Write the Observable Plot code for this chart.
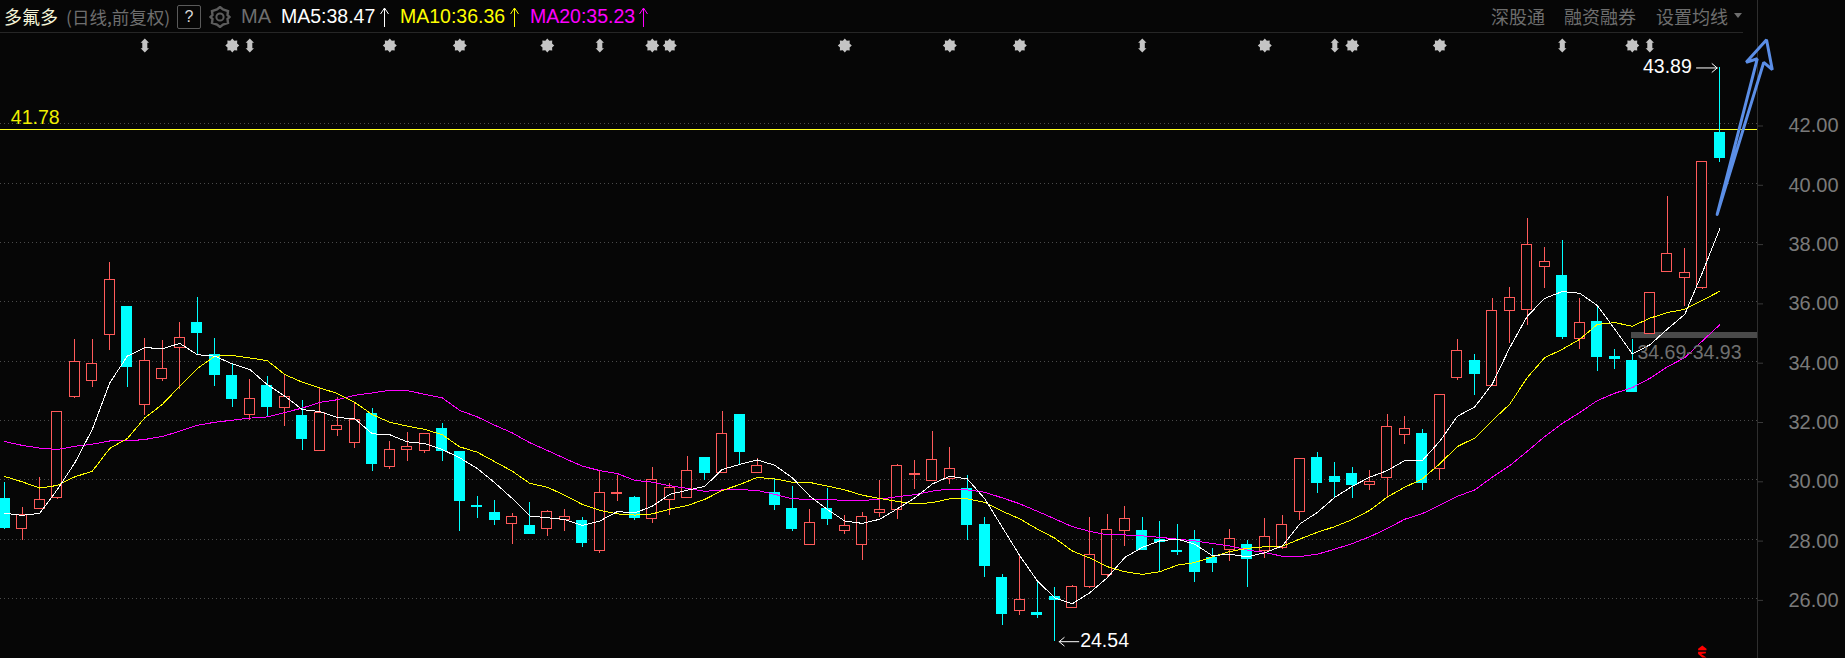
<!DOCTYPE html>
<html>
<head>
<meta charset="utf-8">
<script src="https://cdn.jsdelivr.net/npm/d3@7"></script>
<script src="https://cdn.jsdelivr.net/npm/@observablehq/plot@0.6"></script>
<style>
html,body{margin:0;padding:0;background:#060606;width:1845px;height:658px;overflow:hidden}
#head{position:relative;width:1845px;height:33px;font-family:"Liberation Sans","Noto Sans CJK SC",sans-serif;font-size:19.5px;line-height:33px;white-space:nowrap}
#head span{position:absolute;top:0}
#head .rule{position:absolute;left:0;top:32px;width:1743px;height:1px;background:#262626}
#head .axis{position:absolute;left:1757px;top:0;width:1px;height:33px;background:#2e2e2e}
#head .cjk{font-family:"Noto Sans CJK SC",sans-serif;font-size:18px}
#head svg{position:absolute}
svg{display:block}
</style>
</head>
<body>
<div id="head">
<span class="cjk" style="left:4px;color:#f4f4d8">多氟多</span>
<span class="cjk" style="left:66px;color:#6e6e6e;font-size:17.5px">(日线,前复权)</span>
<span style="left:177px;top:5px;width:22px;height:22px;line-height:22px;border:1px solid #5a5a5a;border-radius:2px;text-align:center;color:#d8d8d8;font-size:16px">?</span>
<svg style="left:209px;top:6px" width="22" height="22" viewBox="-11 -11 22 22"><polygon points="0,-10 3,-7.5 8,-6 7.5,-2 9.5,0 7.5,2 8,6 3,7.5 0,10 -3,7.5 -8,6 -7.5,2 -9.5,0 -7.5,-2 -8,-6 -3,-7.5" fill="none" stroke="#5c5c5c" stroke-width="2.4"/><circle r="3.6" fill="none" stroke="#5c5c5c" stroke-width="2"/></svg>
<span style="left:241px;color:#6e6e6e;font-size:20px">MA</span>
<span style="left:281px;color:#ffffff">MA5:38.47</span>
<svg style="left:380px;top:7px" width="9" height="20"><path d="M4.5 20V1M0.5 7L4.5 1L8.5 7" fill="none" stroke="#ffffff"/></svg>
<span style="left:400px;color:#ffff00">MA10:36.36</span>
<svg style="left:510px;top:7px" width="9" height="20"><path d="M4.5 20V1M0.5 7L4.5 1L8.5 7" fill="none" stroke="#ffff00"/></svg>
<span style="left:530px;color:#ff00ff">MA20:35.23</span>
<svg style="left:639px;top:7px" width="9" height="20"><path d="M4.5 20V1M0.5 7L4.5 1L8.5 7" fill="none" stroke="#ff00ff"/></svg>
<span class="cjk" style="left:1491px;color:#6e6e6e">深股通</span>
<span class="cjk" style="left:1564px;color:#6e6e6e">融资融券</span>
<span class="cjk" style="left:1656px;color:#6e6e6e">设置均线</span>
<svg style="left:1734px;top:13px" width="8" height="5"><polygon points="0,0 8,0 4,5" fill="#6e6e6e"/></svg>
<div class="rule"></div><div class="axis"></div>
</div>
<div id="chart"></div>
<script>
const open = [29.35,28.33,29.02,29.37,32.80,33.34,34.90,35.82,32.53,33.40,34.45,35.28,34.22,33.49,32.19,33.16,32.43,32.15,30.98,31.69,31.25,32.21,30.44,30.99,30.98,31.71,30.93,29.12,28.88,28.52,28.44,28.35,28.65,28.61,27.61,29.53,29.38,28.69,29.33,29.39,30.73,30.24,32.18,30.24,29.55,29.01,27.81,29.01,28.28,27.81,28.89,28.97,30.17,29.95,30.02,29.69,28.49,26.69,25.58,25.50,26.05,25.68,26.40,26.80,28.26,28.28,27.97,27.61,27.98,27.37,27.62,27.81,27.59,27.71,28.90,30.72,30.11,30.18,29.82,30.06,31.50,31.56,30.36,33.45,34.01,33.15,35.70,35.74,37.18,36.87,34.76,35.32,34.13,34.01,34.93,37.01,36.81,36.48,41.70];
const close = [28.38,28.80,29.33,32.30,33.96,33.92,36.75,33.80,33.99,33.72,34.79,34.95,33.53,32.72,32.74,32.45,32.78,31.37,32.24,31.80,32.00,30.53,30.99,31.12,31.53,30.97,29.28,29.08,28.64,28.76,28.17,28.90,28.76,27.87,29.54,29.57,28.71,29.98,29.71,30.28,30.22,31.56,30.93,30.45,29.15,28.34,28.53,28.67,28.43,28.73,28.97,30.47,30.21,30.68,30.37,28.49,27.10,25.47,25.93,25.44,25.94,26.37,27.46,28.31,28.68,27.64,27.89,27.58,26.89,27.20,28.00,27.33,28.07,28.47,30.71,29.88,29.94,29.84,29.93,31.78,31.71,29.88,32.86,34.34,33.57,35.68,36.12,37.93,37.33,34.82,35.28,34.15,34.09,32.97,36.29,37.60,36.99,40.72,40.85];
const high = [29.91,29.08,30.09,32.30,34.74,34.74,37.34,35.82,34.77,34.71,35.31,36.16,34.77,33.89,33.39,33.49,33.52,32.69,33.10,32.79,32.61,32.41,31.30,31.61,31.53,31.91,30.96,29.45,29.30,28.88,29.25,28.98,29.01,28.74,30.31,30.16,29.42,30.43,29.88,30.80,30.76,32.31,32.18,30.72,30.01,29.79,29.01,29.69,28.81,28.91,29.96,30.52,30.66,31.64,31.10,30.15,28.72,26.82,27.46,26.62,26.38,26.45,28.72,28.82,29.10,28.72,28.59,28.49,28.28,27.67,28.32,27.94,28.69,28.79,30.71,30.93,30.59,30.41,30.31,32.20,32.13,31.69,32.86,34.72,34.21,36.13,36.50,38.82,37.84,38.08,36.13,35.86,34.41,34.72,36.29,39.55,37.81,40.72,43.89];
const low = [28.31,27.94,29.02,29.33,32.73,33.10,34.37,33.10,32.17,33.33,33.03,34.22,33.16,32.43,32.00,32.09,31.81,31.00,30.94,31.47,31.07,30.29,30.34,30.63,30.90,30.63,28.27,28.71,28.47,27.83,28.17,28.10,28.24,27.73,27.53,29.27,28.64,28.51,28.81,29.39,29.96,30.24,30.52,30.24,28.98,28.27,27.81,28.47,28.17,27.29,28.74,28.67,29.67,29.95,29.84,27.94,26.72,25.10,25.43,25.33,24.54,25.68,26.33,26.70,27.74,27.64,26.90,27.44,26.52,26.86,27.23,26.38,27.33,27.65,28.62,29.54,29.41,29.37,29.64,29.37,31.19,29.64,29.98,33.34,32.83,33.15,34.58,35.19,36.46,34.72,34.41,33.64,33.71,32.97,34.93,37.01,35.86,36.41,40.70];
const ma5 = [28.87,28.80,28.87,29.67,30.57,31.70,33.27,34.17,34.46,34.42,34.60,34.22,34.17,33.91,33.72,33.21,32.82,32.37,32.30,32.10,32.06,31.55,31.52,31.28,31.22,31.02,30.74,30.38,29.90,29.37,28.78,28.72,28.66,28.46,28.61,28.93,28.88,29.11,29.51,29.65,29.78,30.35,30.52,30.67,30.49,30.07,29.45,29.00,28.61,28.53,28.67,29.02,29.39,29.86,30.12,30.03,29.36,28.40,27.44,26.59,26.02,25.82,26.19,26.70,27.38,27.72,27.94,28.00,27.83,27.44,27.49,27.40,27.54,27.77,28.51,28.90,29.41,29.78,30.09,30.31,30.65,30.65,31.30,32.14,32.46,33.23,34.46,35.52,36.12,36.35,36.29,35.88,35.08,34.25,34.55,35.08,35.58,36.98,38.47];
const ma10 = [30.11,29.93,29.72,29.81,30.10,30.29,31.06,31.39,32.09,32.54,33.16,33.75,34.17,34.19,34.11,34.02,33.55,33.29,33.10,32.91,32.61,32.20,31.94,31.81,31.70,31.52,31.11,30.93,30.61,30.29,29.88,29.75,29.48,29.17,28.97,28.85,28.81,28.85,29.01,29.13,29.34,29.64,29.84,30.08,30.03,29.92,29.91,29.79,29.66,29.48,29.37,29.27,29.19,29.23,29.36,29.36,29.24,28.94,28.68,28.34,28.03,27.60,27.36,27.07,26.90,26.81,26.90,27.12,27.21,27.40,27.58,27.69,27.74,27.76,28.00,28.23,28.42,28.66,28.97,29.42,29.75,30.03,30.54,31.12,31.41,32.00,32.55,33.45,34.12,34.40,34.74,35.24,35.30,35.18,35.45,35.64,35.75,36.05,36.36];
const ma20 = [31.29,31.16,31.07,31.02,31.13,31.20,31.31,31.31,31.36,31.46,31.64,31.84,31.94,32.01,32.08,32.12,32.27,32.42,32.61,32.70,32.85,32.93,33.02,33.01,32.88,32.76,32.34,32.12,31.84,31.58,31.25,30.99,30.72,30.46,30.31,30.21,29.98,29.92,29.80,29.71,29.61,29.66,29.67,29.64,29.51,29.36,29.34,29.33,29.31,29.30,29.35,29.43,29.50,29.62,29.69,29.66,29.58,29.39,29.19,28.94,28.68,28.42,28.26,28.14,28.14,28.11,28.06,28.00,27.94,27.85,27.77,27.63,27.55,27.42,27.41,27.49,27.66,27.85,28.08,28.36,28.67,28.86,29.14,29.44,29.66,30.09,30.48,30.96,31.46,31.90,32.27,32.67,32.92,33.11,33.42,33.81,34.12,34.68,35.23];
const yTicks = [26,28,30,32,34,36,38,40,42];
const starDays = [13,22,26,31,37,38,48,54,58,72,77,82,93];
const arrowDays = [8,14,34,65,76,89,94];
const redMarkDays = [97];
const resistance = [41.78];
const bandDay = 92.95, bandLow = 34.78, bandHigh = 34.97, bandLabel = "34.69-34.93";
const drawnX = [97.85,100.14,99.51,100.67,101.0,100.51,97.85];
const drawnY = [38.95,44.20,44.08,44.84,43.83,44.08,38.95];

const BG = "#060606", UP = "#ff5a5a", DOWN = "#00ffff";
const index = d3.range(open.length);
const color = i => close[i] >= open[i] ? UP : DOWN;
const ups = index.filter(i => close[i] >= open[i]);
const downs = index.filter(i => close[i] < open[i]);
const xMax = (1757 - 4.3) / 17.5;
const halfBody = 0.28;

const starSymbol = {draw(c, size){
  const R = Math.sqrt(size / Math.PI), n = 8;
  for (let k = 0; k < n * 2; k++) {
    const a = k * Math.PI / n, r = k % 2 ? R * 0.74 : R;
    const px = r * Math.sin(a), py = -r * Math.cos(a);
    k ? c.lineTo(px, py) : c.moveTo(px, py);
  }
  c.closePath();
}};
const updownSymbol = {draw(c, size){
  const R = Math.sqrt(size / Math.PI), w = R * 0.6, s = R * 0.36;
  c.moveTo(0, -R); c.lineTo(w, -R * 0.4); c.lineTo(s, -R * 0.4); c.lineTo(s, R * 0.4);
  c.lineTo(w, R * 0.4); c.lineTo(0, R); c.lineTo(-w, R * 0.4); c.lineTo(-s, R * 0.4);
  c.lineTo(-s, -R * 0.4); c.lineTo(-w, -R * 0.4); c.closePath();
}};
const redSymbol = {draw(c, size){
  const R = Math.sqrt(size / Math.PI);
  c.moveTo(0, -R); c.lineTo(R * 0.7, -R * 0.45); c.lineTo(R * 0.7, -R * 0.2); c.lineTo(-R * 0.7, -R * 0.2); c.lineTo(-R * 0.7, -R * 0.45); c.closePath();
  c.moveTo(-R * 0.7, R * 0.05); c.lineTo(R * 0.6, R * 0.05); c.lineTo(R * 0.6, R * 0.3); c.lineTo(-R * 0.2, R * 0.4); c.lineTo(R * 0.7, R); c.lineTo(0, R); c.lineTo(-R * 0.7, R * 0.4); c.closePath();
}};

const crisp = {shapeRendering: "crispEdges"};
const chart = Plot.plot({
  width: 1845, height: 625,
  marginLeft: 0, marginRight: 88, marginTop: 0, marginBottom: 0,
  style: {background: BG, fontFamily: "Liberation Sans, sans-serif", overflow: "visible"},
  x: {type: "linear", domain: [-4.3 / 17.5, xMax], axis: null},
  y: {type: "linear", domain: [23.973, 45.052], axis: null},
  marks: [
    Plot.ruleY(yTicks, {y: d => d, stroke: "#4a4a4a", strokeDasharray: "1,3", ...crisp}),
    Plot.ruleX([xMax], {x: d => d, stroke: "#2e2e2e", ...crisp}),
    Plot.axisY({anchor: "right", ticks: yTicks, tickFormat: d => d.toFixed(2), tickSize: 5, tickPadding: 26, fontSize: 20, dy: 2, fill: "#7a7a7a", stroke: "#3a3a3a", label: null}),
    Plot.dot(starDays, {x: d => d, frameAnchor: "top", dy: 12, r: 7, fill: "#c4c4c4", stroke: "none", symbol: starSymbol}),
    Plot.dot(arrowDays, {x: d => d, frameAnchor: "top", dy: 12, r: 7, fill: "#c4c4c4", stroke: "none", symbol: updownSymbol}),
    Plot.dot(redMarkDays, {x: d => d, frameAnchor: "bottom", dy: -7, r: 6, fill: "#ff0000", stroke: "none", symbol: redSymbol}),
    Plot.rect(resistance.map(() => 0), {x1: bandDay, x2: xMax, y1: bandLow, y2: bandHigh, fill: "#4a4a4a", ...crisp}),
    Plot.ruleY(resistance, {y: d => d, dy: -1, stroke: "#ffff20", ...crisp}),
    Plot.text(resistance, {text: d => d.toFixed(2), x: 0, dx: 6, y: d => d, dy: -13, textAnchor: "start", fontSize: 19.5, fill: "#f0f000"}),
    Plot.ruleX(index, {x: i => i, y1: i => low[i], y2: i => high[i], stroke: color, ...crisp}),
    Plot.rect(downs, {x1: i => i - halfBody, x2: i => i + halfBody, y1: i => open[i], y2: i => close[i], fill: DOWN, stroke: DOWN, ...crisp}),
    Plot.rect(ups, {x1: i => i - halfBody, x2: i => i + halfBody, y1: i => open[i], y2: i => close[i], fill: BG, stroke: UP, ...crisp}),
    Plot.line(index, {x: i => i, y: i => ma20[i], stroke: "#ff00ff", strokeWidth: 1, ...crisp}),
    Plot.line(index, {x: i => i, y: i => ma10[i], stroke: "#ffff00", strokeWidth: 1, ...crisp}),
    Plot.line(index, {x: i => i, y: i => ma5[i], stroke: "#ffffff", strokeWidth: 1, ...crisp}),
    Plot.text([bandLabel], {x: bandDay, dx: 6, y: 34.3, textAnchor: "start", fontSize: 19.5, fill: "#707070"}),
    Plot.arrow([43.89], {x1: 96.67, x2: 97.85, y1: d => d, y2: d => d, stroke: "#ffffff", strokeWidth: 1, headLength: 10, headAngle: 80, bend: 0}),
    Plot.text([43.89], {x: 96.4, y: d => d, dy: -1, text: d => d.toFixed(2), textAnchor: "end", fontSize: 19.5, fill: "#ffffff"}),
    Plot.arrow([24.54], {x1: 61.37, x2: 60.25, y1: d => d, y2: d => d, stroke: "#ffffff", strokeWidth: 1, headLength: 10, headAngle: 80, bend: 0}),
    Plot.text([24.54], {x: 61.45, y: d => d, dy: -1, text: d => d.toFixed(2), textAnchor: "start", fontSize: 19.5, fill: "#ffffff"}),
    Plot.line(drawnX.map((x, k) => ({x, y: drawnY[k]})), {x: "x", y: "y", stroke: "#5b8ee6", strokeWidth: 3, strokeLinejoin: "miter"})
  ]
});
document.getElementById("chart").appendChild(chart);
</script>
</body>
</html>
